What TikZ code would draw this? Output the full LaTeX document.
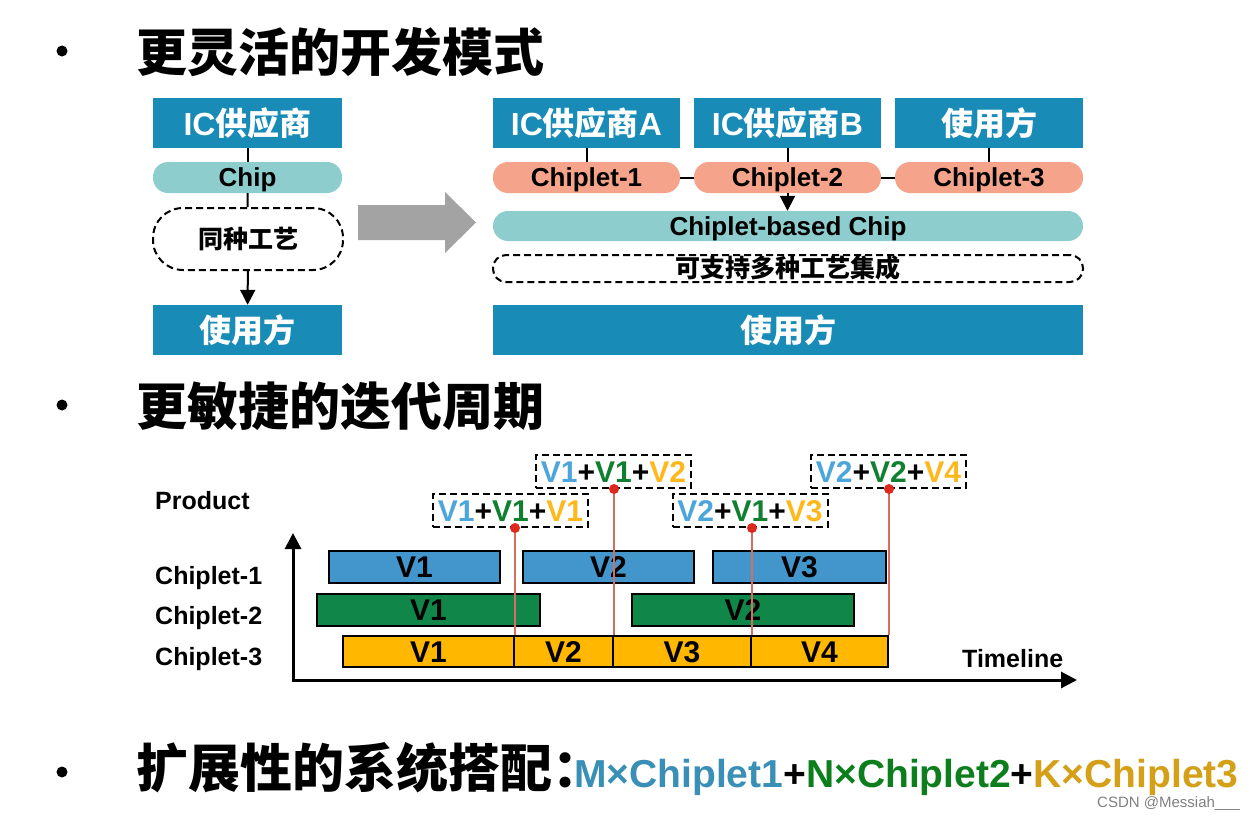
\documentclass[tikz,border=0pt]{standalone}
\usepackage{fontspec}
\setmainfont{Liberation Sans}
\newfontfamily\cjk{Noto Sans CJK SC}
\usetikzlibrary{arrows.meta}
\pgfdeclarelayer{background}
\pgfsetlayers{background,main}

\newcommand\setfs[1]{\fontsize{#1}{#1}\selectfont}

\definecolor{hdrblue}{RGB}{24,139,183}
\definecolor{tealc}{RGB}{141,205,205}
\definecolor{salmon}{RGB}{246,163,140}
\definecolor{arrowgray}{RGB}{163,163,163}
\definecolor{barblue}{RGB}{66,150,204}
\definecolor{bargreen}{RGB}{16,135,72}
\definecolor{barorange}{RGB}{255,183,0}
\definecolor{vblue}{RGB}{76,166,220}
\definecolor{vgreen}{RGB}{16,128,48}
\definecolor{vorange}{RGB}{255,184,28}
\definecolor{mblue}{RGB}{58,143,183}
\definecolor{ngreen}{RGB}{12,127,28}
\definecolor{kgold}{RGB}{212,160,23}
\definecolor{markline}{RGB}{214,110,95}
\definecolor{markdot}{RGB}{222,40,30}

\newcommand\vB[1]{{\color{vblue}#1}}
\newcommand\vG[1]{{\color{vgreen}#1}}
\newcommand\vO[1]{{\color{vorange}#1}}

\begin{document}
\begin{tikzpicture}[x=1pt,y=-1pt,
  title/.style={anchor=west,inner sep=0pt,font=\cjk\bfseries\setfs{51}},
  hdr/.style={fill=hdrblue,text=white,font=\bfseries\setfs{32},minimum height=50pt,inner sep=0pt},
  pill/.style={rounded corners=15pt,minimum height=31pt,inner sep=0pt,text height=18.6pt,text depth=0pt,font=\bfseries\setfs{26}},
  dashbox/.style={draw=black,dashed,dash pattern=on 7pt off 4pt,line width=2pt,inner sep=0pt,font=\cjk\bfseries\setfs{25}},
  link/.style={draw=black,line width=2pt},
  arr/.style={link,-{Triangle[width=15pt,length=15pt]}},
  bar/.style={draw=black,line width=2pt,inner sep=0pt,minimum height=32pt,text height=21.5pt,text depth=0pt,font=\bfseries\setfs{30}},
  prod/.style={draw=black,dashed,dash pattern=on 7pt off 4pt,line width=2pt,inner sep=0pt,minimum width=155pt,minimum height=33pt,text height=21.5pt,text depth=0pt,font=\bfseries\setfs{30}},
  rowlab/.style={anchor=west,inner sep=0pt,font=\bfseries\setfs{25}},
  relline/.style={draw=markline,line width=1.2pt},
  axis/.style={draw=black,line width=3pt,{Triangle[width=16pt,length=16pt]}-{Triangle[width=16pt,length=16pt]}}
]
\useasboundingbox[fill=white] (0,0) rectangle (1255,817);

% ---------- section 1 ----------
\fill (62,51) circle (5.5pt);
\node[title] (t1) at (136,52) {更灵活的开发模式};

% traditional flow
\node[hdr,minimum width=189pt] (icL) at (247.5,123) {IC{\cjk 供应商}};
\node[pill,fill=tealc,minimum width=189pt] (chipL) at (247.5,177.5) {Chip};
\node[dashbox,minimum width=190pt,minimum height=62pt,rounded corners=30pt] (procL) at (248,239) {同种工艺};
\node[hdr,minimum width=189pt] (userL) at (247.5,330) {{\cjk 使用方}};
\draw[link] (icL) -- (chipL);
\draw[link] (chipL) -- (procL);
\draw[arr] (procL) -- (userL);

% transition arrow
\fill[arrowgray] (358,205) -- (445,205) -- (445,192) -- (476,222.5) -- (445,253) -- (445,240) -- (358,240) -- cycle;

% chiplet flow
\node[hdr,minimum width=187pt] (icA) at (586.5,123) {IC{\cjk 供应商}A};
\node[hdr,minimum width=187pt] (icB) at (787.5,123) {IC{\cjk 供应商}B};
\node[hdr,minimum width=188pt] (userR) at (989,123) {{\cjk 使用方}};
\node[pill,fill=salmon,minimum width=187pt] (cp1) at (586.5,177.5) {Chiplet-1};
\node[pill,fill=salmon,minimum width=187pt] (cp2) at (787.5,177.5) {Chiplet-2};
\node[pill,fill=salmon,minimum width=188pt] (cp3) at (989,177.5) {Chiplet-3};
\node[pill,fill=tealc,minimum width=590pt,minimum height=30pt] (cbc) at (788,226) {Chiplet-based Chip};
\node[dashbox,minimum width=590pt,minimum height=27pt,rounded corners=13pt,text height=20pt,text depth=2pt] (multi) at (788,268.5) {可支持多种工艺集成};
\node[hdr,minimum width=590pt] (userW) at (788,330) {{\cjk 使用方}};
\draw[link] (icA) -- (cp1);
\draw[link] (icB) -- (cp2);
\draw[link] (userR) -- (cp3);
\draw[link] (cp1) -- (cp2);
\draw[link] (cp2) -- (cp3);
\draw[arr] (cp2.south) -- (cp2.south |- cbc.north);
\begin{pgfonlayer}{background}
\draw[arr] (cbc.south) -- (userW.north);
\end{pgfonlayer}

% ---------- section 2 ----------
\fill (62,405) circle (5.5pt);
\node[title] (t2) at (136,406) {更敏捷的迭代周期};

% row labels
\node[rowlab] (lp) at (155,501) {Product};
\node[rowlab] (l1) at (155,578) {Chiplet-1};
\node[rowlab] (l2) at (155,618) {Chiplet-2};
\node[rowlab] (l3) at (155,659) {Chiplet-3};
\node[rowlab] (ltime) at (962,659) {Timeline};

% axes
\coordinate (org) at (293,680);
\coordinate (ytop) at (293,533);
\coordinate (xend) at (1077,680);
\draw[axis] (ytop) -- (org) -- (xend);

% chiplet-1 versions
\node[bar,fill=barblue,minimum width=171pt] (a1) at (414.5,567) {V1};
\node[bar,fill=barblue,minimum width=171pt] (a2) at (608.5,567) {V2};
\node[bar,fill=barblue,minimum width=173pt] (a3) at (799.5,567) {V3};
% chiplet-2 versions
\node[bar,fill=bargreen,minimum width=223pt] (b1) at (428.5,610) {V1};
\node[bar,fill=bargreen,minimum width=222pt] (b2) at (743,610) {V2};
% chiplet-3 versions
\node[bar,fill=barorange,minimum width=171pt,minimum height=31pt] (c1) at (428.5,651.5) {V1};
\node[bar,fill=barorange,minimum width=99pt,minimum height=31pt] (c2) at (563.5,651.5) {V2};
\node[bar,fill=barorange,minimum width=138pt,minimum height=31pt] (c3) at (682,651.5) {V3};
\node[bar,fill=barorange,minimum width=137pt,minimum height=31pt] (c4) at (819.5,651.5) {V4};

% product combinations
\node[prod] (p1) at (510.5,510.5) {\vB{V1}+\vG{V1}+\vO{V1}};
\node[prod] (p2) at (613.5,471.5) {\vB{V1}+\vG{V1}+\vO{V2}};
\node[prod] (p3) at (750,510.5) {\vB{V2}+\vG{V1}+\vO{V3}};
\node[prod] (p4) at (888.5,471.5) {\vB{V2}+\vG{V2}+\vO{V4}};

% release markers
\coordinate (m1) at (c1.north east |- p1.south);
\coordinate (m2) at (c2.north east |- p2.south);
\coordinate (m3) at (c3.north east |- p3.south);
\coordinate (m4) at (c4.north east |- p4.south);
\draw[relline] (m1) -- (c1.north east);
\draw[relline] (m2) -- (c2.north east);
\draw[relline] (m3) -- (c3.north east);
\draw[relline] (m4) -- (c4.north east);
\foreach \m in {m1,m2,m3,m4} \fill[markdot] (\m) circle (5pt);

% ---------- section 3 ----------
\fill (62,772) circle (5.5pt);
\node[anchor=base west,inner sep=0pt,font=\bfseries] (t3) at (136,787)
  {{\cjk\setfs{52}扩展性的系统搭配：}\kern-30pt{\setfs{39}\color{mblue}M×Chiplet1}{\setfs{39}+}{\setfs{39}\color{ngreen}N×Chiplet2}{\setfs{39}+}{\setfs{39}\color{kgold}K×Chiplet3}};

\node[anchor=base west,inner sep=0pt,font=\setfs{15},text=gray] (wm) at (1097,807) {CSDN @Messiah\_\_\_};
\end{tikzpicture}
\end{document}
